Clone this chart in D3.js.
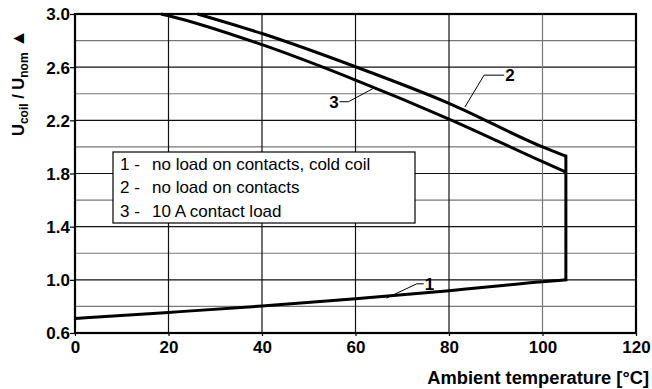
<!DOCTYPE html>
<html>
<head>
<meta charset="utf-8">
<script src="https://cdn.jsdelivr.net/npm/d3@7"></script>
<style>
  body { margin: 0; background: #fff; }
  text { font-family: "Liberation Sans", Arial, sans-serif; }
</style>
</head>
<body>
<svg width="652" height="389"></svg>
<script>
// curve 1 - no load on contacts, cold coil
const curve1Temp = [0, 20, 40, 60, 80, 100, 105];
const curve1Val = [0.71, 0.755, 0.803, 0.858, 0.918, 0.986, 1.0];
// curve 2 - no load on contacts
const curve2Temp = [26.2, 40, 60, 80, 100, 105];
const curve2Val = [3.0, 2.853, 2.603, 2.328, 2.0, 1.93];
// curve 3 - 10 A contact load
const curve3Temp = [18.4, 20, 40, 60, 80, 100, 105];
const curve3Val = [3.0, 2.987, 2.769, 2.503, 2.21, 1.889, 1.81];

const xTicks = [0, 20, 40, 60, 80, 100, 120];
const yTicks = [0.6, 1.0, 1.4, 1.8, 2.2, 2.6, 3.0];
const yGrid = [0.8, 1.0, 1.2, 1.4, 1.6, 1.8, 2.0, 2.2, 2.4, 2.6, 2.8];
const legendItems = ["1 -", "2 -", "3 -"];
const legendTexts = ["no load on contacts, cold coil", "no load on contacts", "10 A contact load"];

const svg = d3.select("svg"),
  margin = {top: 14, right: 16, bottom: 56, left: 75},
  width = +svg.attr("width") - margin.left - margin.right,
  height = +svg.attr("height") - margin.top - margin.bottom,
  g = svg.append("g").attr("transform", "translate(" + margin.left + "," + margin.top + ")");

const x = d3.scaleLinear().domain([0, 120]).range([0, width]);
const y = d3.scaleLinear().domain([0.6, 3.0]).range([height, 0]);

// grid
g.selectAll(".hgrid").data(yGrid).enter().append("line")
  .attr("x1", 0).attr("x2", width)
  .attr("y1", d => y(d)).attr("y2", d => y(d))
  .attr("stroke", d => (Math.round(d * 10) % 4 === 0) ? "#777" : "#111")
  .attr("stroke-width", 1.2);

g.selectAll(".vgrid").data([20, 40, 60, 80, 100]).enter().append("line")
  .attr("x1", d => x(d)).attr("x2", d => x(d))
  .attr("y1", 0).attr("y2", height)
  .attr("stroke", d => d === 100 ? "#777" : "#111")
  .attr("stroke-width", 1.2);

// axes
const xAxis = g.append("g")
  .attr("transform", "translate(0," + height + ")")
  .call(d3.axisBottom(x).tickValues(xTicks).tickSize(3).tickFormat(d3.format("d")));
const yAxis = g.append("g")
  .call(d3.axisLeft(y).tickValues(yTicks).tickSize(5).tickFormat(d3.format(".1f")));
[xAxis, yAxis].forEach(a => {
  a.select(".domain").remove();
  a.selectAll("line").attr("stroke", "#000").attr("stroke-width", 1.2);
  a.selectAll("text").attr("fill", "#000")
    .style("font-family", "'Liberation Sans', Arial, sans-serif")
    .style("font-size", "17px").style("font-weight", "bold");
});
xAxis.selectAll("text").attr("y", 4).attr("dy", "0.95em");
yAxis.selectAll("text").attr("x", -5).attr("dy", "0.35em");

// frame
g.append("rect")
  .attr("width", width).attr("height", height)
  .attr("fill", "none").attr("stroke", "#000").attr("stroke-width", 2.2);

// curves
const line = d3.line().x(d => x(d[0])).y(d => y(d[1]));
const smooth = d3.line().x(d => x(d[0])).y(d => y(d[1])).curve(d3.curveMonotoneX);
const series = [
  d3.zip(curve1Temp, curve1Val),
  d3.zip(curve2Temp, curve2Val),
  d3.zip(curve3Temp, curve3Val)
];
series.forEach(s => {
  g.append("path").datum(s)
    .attr("fill", "none").attr("stroke", "#000")
    .attr("stroke-width", 3).attr("stroke-linejoin", "miter")
    .attr("d", smooth);
});
// vertical limit at 105 °C
g.append("path")
  .datum([[105, curve1Val[curve1Val.length - 1]], [105, curve2Val[curve2Val.length - 1]]])
  .attr("fill", "none").attr("stroke", "#000").attr("stroke-width", 3)
  .attr("stroke-linecap", "square")
  .attr("d", line);

// curve labels with leader lines
const callouts = [
  {label: "1", at: [66.6, 0.862], knee: [73.1, 0.97], end: [74.6, 0.97]},
  {label: "2", at: [83.4, 2.30], knee: [87.5, 2.54], end: [91.8, 2.54]},
  {label: "3", at: [63.8, 2.44], knee: [58.5, 2.34], end: [56.6, 2.34]}
];
callouts.forEach(c => {
  g.append("path").datum([c.at, c.knee, c.end])
    .attr("fill", "none").attr("stroke", "#000").attr("stroke-width", 1)
    .attr("d", line);
  const right = c.end[0] > c.knee[0];
  g.append("text")
    .attr("x", x(c.end[0]) + (right ? 1 : -1))
    .attr("y", y(c.end[1]))
    .attr("dy", "0.35em")
    .attr("text-anchor", right ? "start" : "end")
    .style("font-size", "17px").style("font-weight", "bold")
    .text(c.label);
});

// legend
const lg = svg.append("g").attr("transform", "translate(113,152)");
lg.append("rect").attr("width", 302).attr("height", 71)
  .attr("fill", "#fff").attr("stroke", "#000").attr("stroke-width", 1.2);
legendItems.forEach((d, i) => {
  lg.append("text").attr("x", 7).attr("y", 12 + i * 23.5).attr("dy", "0.35em")
    .style("font-size", "17px").text(d);
  lg.append("text").attr("x", 39).attr("y", 12 + i * 23.5).attr("dy", "0.35em")
    .style("font-size", "17px").text(legendTexts[i]);
});

// axis titles
svg.append("text")
  .attr("x", 649).attr("y", 384)
  .attr("text-anchor", "end")
  .style("font-size", "18.3px").style("font-weight", "bold")
  .text("Ambient temperature [°C]");

const yt = svg.append("text")
  .attr("transform", "translate(24,136) rotate(-90)")
  .attr("text-anchor", "start")
  .style("font-size", "16.5px").style("font-weight", "bold");
yt.append("tspan").text("U");
yt.append("tspan").attr("dy", 4).style("font-size", "12px").text("coil");
yt.append("tspan").attr("dy", -4).text(" / U");
yt.append("tspan").attr("dy", 4).style("font-size", "12px").text("nom");
yt.append("tspan").attr("dy", -4).style("font-size", "18px").text("  \u25B2");
</script>
</body>
</html>
